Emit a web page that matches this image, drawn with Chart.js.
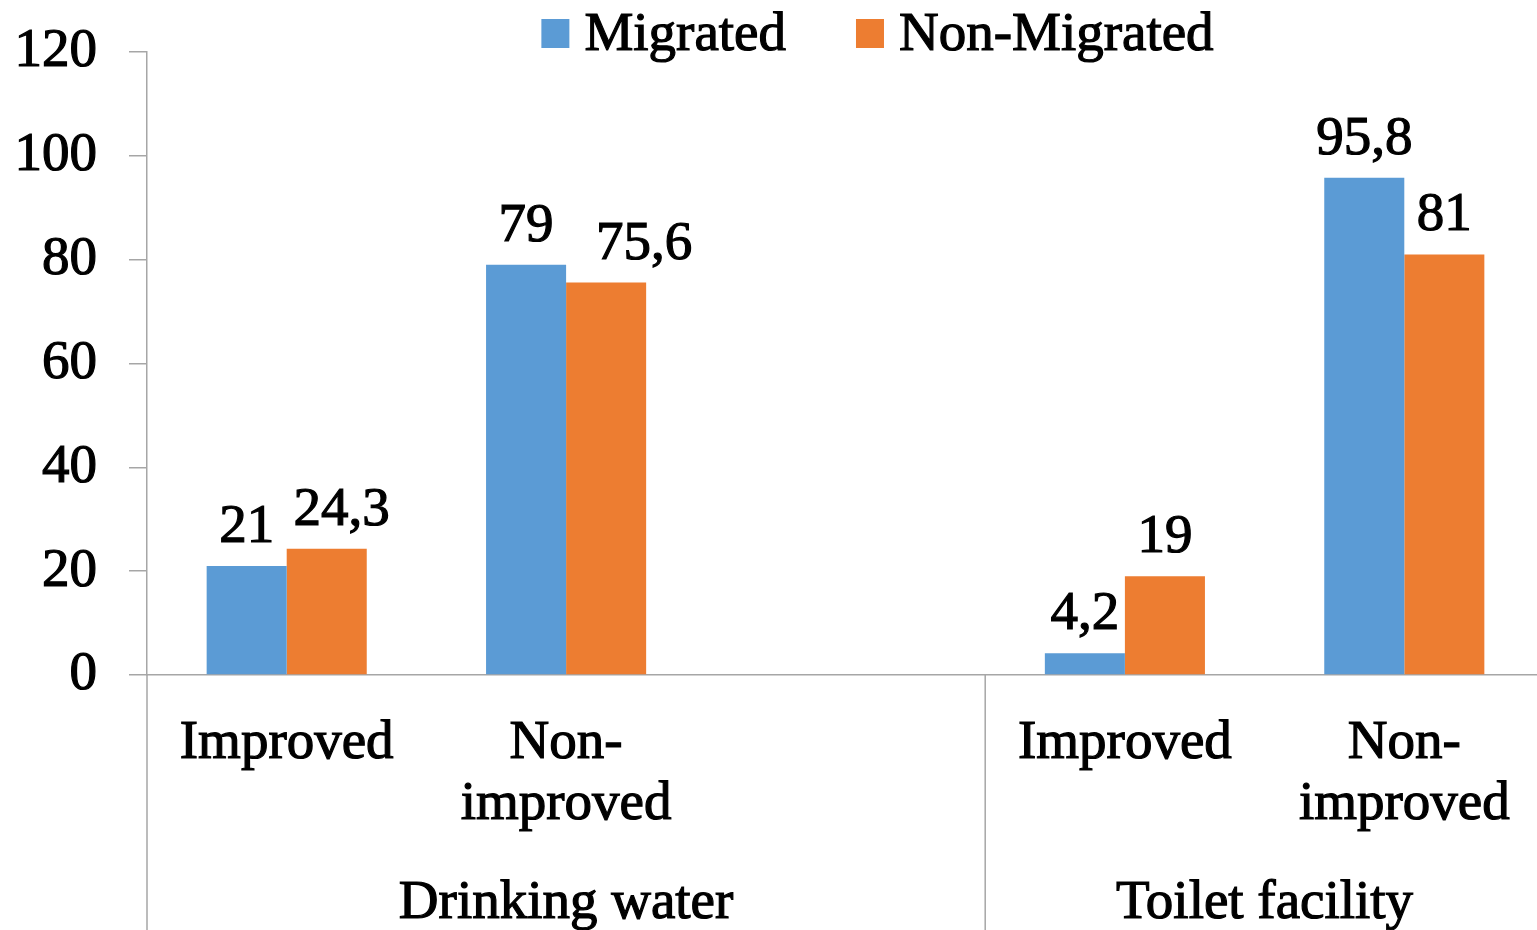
<!DOCTYPE html>
<html>
<head>
<meta charset="utf-8">
<script src="https://cdn.jsdelivr.net/npm/chart.js@4.4.1/dist/chart.umd.min.js"></script>
<style>
  html, body { margin: 0; padding: 0; background: #ffffff; overflow: hidden; }
  canvas { display: block; }
</style>
</head>
<body>
<canvas id="waterChart" width="1560" height="945"></canvas>
<script>
const categories = ["Improved", ["Non-", "improved"], "", "Improved", ["Non-", "improved"]];
const groups = ["Drinking water", "Toilet facility"];
const groupSpans = [3, 2];
const seriesNames = ["Migrated", "Non-Migrated"];
const migrated = [21, 79, null, 4.2, 95.8];
const nonMigrated = [24.3, 75.6, null, 19, 81];
const yTicks = [0, 20, 40, 60, 80, 100, 120];

const colors = ["#5B9BD5", "#ED7D31"];
const axisColor = "#a6a6a6";
const fontFamily = "'Liberation Serif', 'Times New Roman', serif";
const textStroke = 1.2;

// labels that were nudged sideways in the original (dataset-index)
const labelNudge = { "1-0": 15, "1-1": 38 };

function fmt(v) {
    return String(v).replace(".", ",");
}

function heavyText(ctx, str, x, y) {
    ctx.fillText(str, x, y);
    ctx.strokeText(str, x, y);
}

// data labels on top of each bar
const barLabels = {
    id: "barLabels",
    afterDatasetsDraw(chart) {
        const ctx = chart.ctx;
        ctx.save();
        ctx.font = "55px " + fontFamily;
        ctx.fillStyle = "#000000";
        ctx.strokeStyle = "#000000";
        ctx.lineWidth = textStroke;
        ctx.textAlign = "center";
        ctx.textBaseline = "alphabetic";
        chart.data.datasets.forEach((ds, di) => {
            const meta = chart.getDatasetMeta(di);
            meta.data.forEach((bar, i) => {
                if (ds.data[i] == null) return;
                const dx = labelNudge[di + "-" + i] || 0;
                heavyText(ctx, fmt(ds.data[i]), bar.x + dx, bar.y - 24);
            });
        });
        ctx.restore();
    }
};

// group labels and separators under the category axis
const groupAxis = {
    id: "groupAxis",
    afterDraw(chart) {
        const ctx = chart.ctx;
        const x = chart.scales.x;
        const area = chart.chartArea;
        const half = (x.getPixelForValue(1) - x.getPixelForValue(0)) / 2;
        ctx.save();
        ctx.strokeStyle = axisColor;
        ctx.lineWidth = 1.5;

        ctx.beginPath();
        ctx.moveTo(area.left, area.bottom);
        ctx.lineTo(area.left, chart.height);
        ctx.stroke();

        let start = 0;
        const spans = [];
        groups.forEach((g, gi) => {
            const end = start + groupSpans[gi] - 1;
            const left = x.getPixelForValue(start) - half;
            const right = x.getPixelForValue(end) + half;
            if (gi > 0) {
                ctx.beginPath();
                ctx.moveTo(left, area.bottom);
                ctx.lineTo(left, chart.height);
                ctx.stroke();
            }
            spans.push((left + right) / 2);
            start = end + 1;
        });

        ctx.font = "55px " + fontFamily;
        ctx.fillStyle = "#000000";
        ctx.strokeStyle = "#000000";
        ctx.lineWidth = textStroke;
        ctx.textAlign = "center";
        ctx.textBaseline = "alphabetic";
        groups.forEach((g, gi) => {
            heavyText(ctx, g, spans[gi], area.bottom + 243);
        });
        ctx.restore();
    }
};

// legend drawn at the top
const topLegend = {
    id: "topLegend",
    afterDraw(chart) {
        const ctx = chart.ctx;
        ctx.save();
        ctx.font = "55px " + fontFamily;
        const box = 28, gap = 15, spacing = 70;
        const widths = seriesNames.map(n => ctx.measureText(n).width);
        const total = widths.reduce((a, b) => a + b, 0) + seriesNames.length * (box + gap) + spacing;
        const center = (chart.chartArea.left + chart.chartArea.right) / 2 + 32;
        let cx = center - total / 2;
        ctx.textBaseline = "alphabetic";
        ctx.textAlign = "left";
        ctx.lineWidth = textStroke;
        ctx.strokeStyle = "#000000";
        seriesNames.forEach((n, i) => {
            ctx.fillStyle = colors[i];
            ctx.fillRect(cx, 19, box, box + 1);
            ctx.fillStyle = "#000000";
            heavyText(ctx, n, cx + box + gap, 50);
            cx += box + gap + widths[i] + spacing;
        });
        ctx.restore();
    }
};

const ctx = document.getElementById("waterChart").getContext("2d");

new Chart(ctx, {
    type: "bar",
    data: {
        labels: categories,
        datasets: [
            {
                label: seriesNames[0],
                data: migrated,
                backgroundColor: colors[0],
                borderWidth: 0
            },
            {
                label: seriesNames[1],
                data: nonMigrated,
                backgroundColor: colors[1],
                borderWidth: 0
            }
        ]
    },
    options: {
        responsive: false,
        animation: false,
        layout: {
            padding: { left: 15, right: 16, top: 52, bottom: 112 }
        },
        datasets: {
            bar: {
                barPercentage: 1,
                categoryPercentage: 0.573
            }
        },
        plugins: {
            legend: { display: false },
            tooltip: { enabled: false }
        },
        scales: {
            x: {
                afterFit: axis => {
                    axis.height = 158;
                    axis.paddingLeft = 0;
                    axis.paddingRight = 0;
                },
                grid: { display: false },
                border: { display: true, color: axisColor, width: 1.5 },
                ticks: {
                    color: "#000000",
                    autoSkip: false,
                    maxRotation: 0,
                    padding: 30,
                    textStrokeColor: "#000000",
                    textStrokeWidth: textStroke,
                    font: { family: fontFamily, size: 55, lineHeight: 1.11 }
                }
            },
            y: {
                min: 0,
                max: 120,
                afterBuildTicks: axis => {
                    axis.ticks = yTicks.map(v => ({ value: v }));
                },
                afterFit: axis => {
                    axis.width = 132;
                    axis.paddingTop = 0;
                    axis.paddingBottom = 0;
                },
                grid: {
                    drawOnChartArea: false,
                    drawTicks: true,
                    tickLength: 18,
                    color: axisColor,
                    lineWidth: 1.5
                },
                border: { display: true, color: axisColor, width: 1.5 },
                ticks: {
                    color: "#000000",
                    padding: 32,
                    textStrokeColor: "#000000",
                    textStrokeWidth: textStroke,
                    font: { family: fontFamily, size: 55 }
                }
            }
        }
    },
    plugins: [barLabels, groupAxis, topLegend]
});
</script>
</body>
</html>
